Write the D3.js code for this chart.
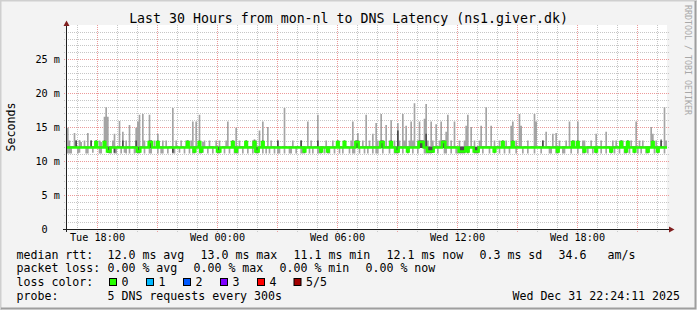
<!DOCTYPE html>
<html>
<head>
<meta charset="utf-8">
<script src="https://cdn.jsdelivr.net/npm/d3@7"></script>
<style>
html, body { margin: 0; padding: 0; background: #f3f3f3; }
svg text { font-family: "DejaVu Sans Mono", monospace; fill: #000; }
</style>
</head>
<body>
<div id="chart"></div>
<script>
// 30 hours of 5 minute steps (360), one row per hour, values in ms
const rttMax = [
  14.9, 13.0, 12.2, 12.2, 14.1, 13.0, 12.1, 13.1, 12.8, 12.1, 13.0, 12.2,
  14.1, 12.1, 13.0, 12.2, 12.2, 13.0, 12.1, 13.0, 12.8, 12.1, 16.5, 17.9,
  16.5, 12.2, 12.2, 13.0, 14.0, 12.1, 12.2, 15.9, 12.2, 14.3, 12.1, 13.0,
  12.2, 15.3, 12.1, 12.2, 12.2, 14.9, 15.8, 16.8, 12.2, 16.9, 13.0, 12.1,
  12.2, 16.8, 13.0, 12.1, 13.0, 12.1, 14.0, 12.2, 12.2, 13.0, 12.1, 13.0,
  12.1, 12.2, 12.2, 17.8, 12.1, 13.0, 12.2, 12.1, 13.0, 12.2, 12.1, 13.0,
  13.0, 12.1, 13.0, 15.8, 12.2, 15.8, 12.2, 16.8, 12.1, 12.8, 13.0, 12.1,
  12.1, 13.0, 12.2, 12.2, 12.1, 13.0, 12.2, 13.0, 12.1, 12.2, 12.2, 13.0,
  15.8, 12.1, 12.2, 13.0, 12.2, 14.9, 12.1, 13.0, 12.2, 12.2, 12.1, 13.0,
  12.1, 12.2, 12.2, 13.0, 13.2, 13.0, 12.1, 14.5, 12.2, 15.8, 12.1, 12.2,
  15.0, 12.1, 13.0, 12.2, 12.2, 12.1, 13.0, 12.2, 12.1, 12.2, 17.8, 12.2,
  12.1, 12.2, 12.2, 13.0, 12.1, 12.2, 12.2, 12.1, 13.0, 12.2, 12.2, 12.1,
  15.8, 12.2, 13.0, 12.1, 12.2, 12.2, 16.8, 12.1, 12.2, 12.2, 12.1, 13.0,
  12.2, 12.2, 12.1, 13.0, 12.2, 12.1, 13.0, 12.2, 12.2, 12.1, 13.0, 12.2,
  12.2, 12.1, 13.0, 15.8, 12.2, 13.0, 14.1, 12.1, 12.2, 13.0, 12.2, 16.8,
  12.2, 13.0, 12.2, 14.0, 12.2, 15.6, 13.0, 12.2, 16.9, 13.0, 12.2, 15.3,
  12.2, 13.0, 16.0, 12.2, 13.0, 12.2, 15.6, 13.0, 12.2, 16.9, 13.0, 15.2,
  12.2, 13.0, 15.8, 13.0, 18.5, 12.2, 13.0, 15.8, 13.0, 13.0, 16.2, 18.4,
  13.0, 12.2, 15.8, 13.0, 12.2, 15.4, 12.2, 13.0, 15.8, 13.0, 13.0, 14.3,
  16.8, 12.2, 13.0, 12.2, 15.8, 12.2, 12.1, 13.0, 12.2, 12.2, 13.0, 15.2,
  16.8, 12.2, 15.0, 12.2, 13.0, 12.1, 12.2, 13.0, 15.2, 12.2, 12.2, 17.9,
  12.2, 12.2, 15.2, 12.1, 13.0, 12.2, 12.2, 13.0, 12.1, 13.0, 12.2, 13.0,
  12.1, 12.2, 15.2, 15.8, 12.2, 13.0, 12.2, 16.9, 15.2, 12.1, 12.2, 12.2,
  13.0, 12.1, 12.2, 12.2, 16.9, 15.8, 12.1, 12.2, 12.2, 13.0, 12.1, 14.3,
  12.2, 12.2, 12.1, 14.0, 12.2, 14.1, 12.2, 13.0, 12.1, 12.2, 12.2, 13.0,
  12.1, 15.8, 12.2, 13.0, 13.0, 12.1, 15.8, 12.2, 12.2, 13.0, 13.0, 12.1,
  12.2, 12.2, 13.0, 12.1, 12.2, 14.0, 12.2, 12.2, 13.0, 12.1, 12.2, 14.3,
  12.2, 12.2, 12.1, 13.0, 12.2, 13.0, 12.2, 12.1, 13.0, 13.0, 12.2, 12.2,
  13.0, 12.1, 13.0, 12.2, 12.2, 15.8, 12.1, 13.0, 12.2, 13.0, 12.1, 12.2,
  12.2, 12.2, 15.0, 14.0, 12.1, 13.0, 12.2, 12.2, 13.2, 12.2, 17.9, 13.0
];

const rttMin = [
  11.1, 11.1, 11.1, 11.9, 11.9, 11.9, 11.1, 11.2, 11.9, 11.9, 11.9, 11.1,
  11.1, 11.9, 11.9, 11.2, 11.9, 11.9, 11.9, 11.1, 11.1, 11.9, 11.9, 11.9,
  11.2, 11.1, 11.1, 11.9, 11.1, 11.1, 11.9, 11.9, 11.1, 11.9, 11.2, 11.1,
  11.9, 11.1, 11.9, 11.9, 11.1, 11.2, 11.1, 11.1, 11.9, 11.9, 11.1, 11.9,
  11.9, 11.1, 11.1, 11.9, 11.9, 11.9, 11.1, 11.9, 11.1, 11.1, 11.9, 11.9,
  11.1, 11.9, 11.9, 11.1, 11.1, 11.9, 11.9, 11.2, 11.9, 11.9, 11.1, 11.9,
  11.9, 11.1, 11.9, 11.1, 11.1, 11.9, 11.9, 11.1, 11.1, 11.2, 11.9, 11.9,
  11.1, 11.9, 11.9, 11.1, 11.9, 11.9, 11.1, 11.1, 11.9, 11.9, 11.1, 11.9,
  11.9, 11.1, 11.9, 11.9, 11.1, 11.1, 11.1, 11.9, 11.9, 11.1, 11.9, 11.9,
  11.1, 11.9, 11.9, 11.1, 11.9, 11.1, 11.1, 11.9, 11.9, 11.1, 11.9, 11.1,
  11.9, 11.1, 11.9, 11.9, 11.1, 11.9, 11.1, 11.1, 11.9, 11.9, 11.1, 11.9,
  11.9, 11.1, 11.1, 11.9, 11.9, 11.1, 11.9, 11.9, 11.1, 11.1, 11.1, 11.9,
  11.9, 11.1, 11.9, 11.1, 11.9, 11.9, 11.1, 11.1, 11.1, 11.9, 11.1, 11.9,
  11.1, 11.1, 11.9, 11.9, 11.1, 11.9, 11.9, 11.1, 11.9, 11.1, 11.9, 11.9,
  11.9, 11.1, 11.9, 11.1, 11.1, 11.9, 11.9, 11.1, 11.9, 11.9, 11.1, 11.9,
  11.1, 11.9, 11.9, 11.1, 11.9, 11.1, 11.1, 11.9, 11.9, 11.1, 11.9, 11.9,
  11.9, 11.1, 11.9, 11.9, 11.1, 11.1, 11.1, 11.9, 11.9, 11.1, 11.9, 11.9,
  11.1, 11.9, 11.9, 11.1, 11.9, 11.9, 11.1, 11.9, 11.9, 11.9, 11.1, 11.1,
  11.1, 11.1, 11.1, 11.2, 11.9, 11.9, 11.1, 11.9, 11.9, 11.9, 11.1, 11.1,
  11.9, 11.9, 11.1, 11.9, 11.9, 11.1, 11.1, 11.1, 11.1, 11.1, 11.1, 11.9,
  11.1, 11.9, 11.9, 11.9, 11.1, 11.1, 11.1, 11.9, 11.9, 11.1, 11.9, 11.9,
  11.9, 11.1, 11.9, 11.9, 11.1, 11.9, 11.9, 11.1, 11.9, 11.9, 11.1, 11.9,
  11.9, 11.1, 11.9, 11.9, 11.9, 11.1, 11.9, 11.9, 11.9, 11.1, 11.9, 11.9,
  11.1, 11.9, 11.9, 11.9, 11.1, 11.9, 11.9, 11.9, 11.1, 11.9, 11.9, 11.9,
  11.9, 11.1, 11.1, 11.9, 11.9, 11.1, 11.1, 11.9, 11.9, 11.1, 11.1, 11.9,
  11.9, 11.9, 11.1, 11.9, 11.9, 11.9, 11.1, 11.9, 11.9, 11.1, 11.1, 11.9,
  11.1, 11.9, 11.9, 11.1, 11.9, 11.1, 11.9, 11.9, 11.1, 11.9, 11.9, 11.1,
  11.9, 11.9, 11.1, 11.9, 11.1, 11.9, 11.9, 11.1, 11.9, 11.9, 11.1, 11.1,
  11.9, 11.1, 11.9, 11.9, 11.1, 11.9, 11.1, 11.9, 11.1, 11.9, 11.9, 11.1,
  11.1, 11.9, 11.9, 11.9, 11.1, 11.9, 11.1, 11.9, 11.9, 11.9, 11.1, 11.9
];

// 2nd and 4th of the 5 sorted pings (dark smoke)
const rttLowQ = [
  11.9, 11.9, 11.9, 11.9, 11.9, 11.9, 11.9, 11.9, 11.9, 11.9, 11.9, 11.9,
  11.9, 11.9, 11.9, 11.9, 11.9, 11.9, 11.9, 11.9, 11.9, 11.9, 11.9, 11.9,
  11.2, 11.2, 11.9, 11.9, 11.2, 11.9, 11.9, 11.9, 11.9, 11.9, 11.9, 11.9,
  11.9, 11.9, 11.9, 11.9, 11.9, 11.9, 11.2, 11.2, 11.9, 11.9, 11.9, 11.9,
  11.9, 11.9, 11.9, 11.9, 11.9, 11.9, 11.9, 11.9, 11.9, 11.9, 11.9, 11.9,
  11.9, 11.9, 11.9, 11.2, 11.9, 11.9, 11.9, 11.9, 11.9, 11.9, 11.9, 11.9,
  11.9, 11.9, 11.9, 11.9, 11.2, 11.9, 11.9, 11.9, 11.2, 11.9, 11.9, 11.9,
  11.9, 11.9, 11.9, 11.9, 11.9, 11.9, 11.2, 11.2, 11.9, 11.9, 11.9, 11.9,
  11.9, 11.9, 11.9, 11.9, 11.9, 11.2, 11.9, 11.9, 11.9, 11.9, 11.9, 11.9,
  11.9, 11.9, 11.9, 11.9, 11.9, 11.2, 11.2, 11.9, 11.9, 11.9, 11.9, 11.9,
  11.9, 11.9, 11.9, 11.9, 11.9, 11.9, 11.9, 11.9, 11.9, 11.9, 11.9, 11.9,
  11.9, 11.9, 11.9, 11.9, 11.9, 11.9, 11.9, 11.9, 11.9, 11.9, 11.2, 11.9,
  11.9, 11.9, 11.9, 11.9, 11.9, 11.9, 11.9, 11.9, 11.2, 11.9, 11.9, 11.9,
  11.2, 11.9, 11.9, 11.9, 11.9, 11.9, 11.9, 11.9, 11.9, 11.9, 11.9, 11.9,
  11.9, 11.9, 11.9, 11.9, 11.9, 11.9, 11.9, 11.9, 11.9, 11.9, 11.9, 11.9,
  11.9, 11.9, 11.9, 11.9, 11.9, 11.9, 11.9, 11.9, 11.9, 11.9, 11.9, 11.9,
  11.9, 11.9, 11.9, 11.9, 11.9, 11.2, 11.2, 11.9, 11.9, 11.9, 11.9, 11.9,
  11.2, 11.9, 11.9, 11.9, 11.9, 11.9, 11.9, 11.9, 11.9, 11.9, 11.9, 11.9,
  11.2, 11.2, 11.2, 11.2, 11.9, 11.9, 11.9, 11.9, 11.9, 11.9, 11.9, 11.9,
  11.9, 11.9, 11.9, 11.9, 11.9, 11.9, 11.9, 11.2, 11.2, 11.2, 11.2, 11.9,
  11.2, 11.9, 11.9, 11.9, 11.2, 11.2, 11.2, 11.9, 11.9, 11.9, 11.9, 11.9,
  11.9, 11.9, 11.9, 11.9, 11.2, 11.9, 11.9, 11.9, 11.9, 11.9, 11.9, 11.9,
  11.9, 11.9, 11.9, 11.9, 11.9, 11.9, 11.9, 11.9, 11.9, 11.9, 11.9, 11.9,
  11.9, 11.9, 11.9, 11.9, 11.9, 11.9, 11.9, 11.9, 11.9, 11.9, 11.9, 11.9,
  11.9, 11.9, 11.9, 11.9, 11.9, 11.9, 11.2, 11.9, 11.9, 11.9, 11.9, 11.9,
  11.9, 11.9, 11.9, 11.9, 11.9, 11.9, 11.9, 11.9, 11.9, 11.9, 11.2, 11.9,
  11.9, 11.9, 11.9, 11.9, 11.9, 11.2, 11.9, 11.9, 11.9, 11.9, 11.9, 11.9,
  11.9, 11.9, 11.2, 11.9, 11.9, 11.9, 11.9, 11.9, 11.9, 11.9, 11.9, 11.2,
  11.9, 11.9, 11.9, 11.9, 11.2, 11.9, 11.9, 11.9, 11.9, 11.9, 11.9, 11.9,
  11.2, 11.9, 11.9, 11.9, 11.9, 11.9, 11.2, 11.9, 11.9, 11.9, 11.9, 11.9
];

const rttHighQ = [
  12.1, 12.1, 12.1, 12.1, 12.1, 13.0, 12.1, 12.1, 12.1, 12.1, 12.1, 12.1,
  12.1, 12.1, 13.0, 12.1, 12.1, 13.0, 12.1, 12.1, 12.1, 12.1, 13.0, 12.1,
  12.1, 12.1, 12.1, 12.1, 12.1, 12.1, 12.1, 12.1, 12.1, 13.0, 12.1, 12.1,
  12.1, 12.1, 12.1, 12.1, 12.1, 13.0, 12.1, 12.1, 12.1, 12.1, 12.1, 12.1,
  12.1, 13.0, 13.0, 12.1, 12.1, 12.1, 13.0, 12.1, 12.1, 12.1, 12.1, 12.1,
  12.1, 12.1, 12.1, 12.1, 12.1, 12.1, 12.1, 12.1, 12.1, 12.1, 12.1, 12.1,
  13.0, 12.1, 12.1, 12.1, 12.1, 12.1, 12.1, 13.0, 12.1, 12.1, 12.1, 12.1,
  12.1, 12.1, 12.1, 12.1, 12.1, 12.1, 12.1, 12.1, 12.1, 12.1, 12.1, 12.1,
  12.1, 12.1, 12.1, 13.0, 12.1, 12.1, 12.1, 12.1, 12.1, 12.1, 12.1, 13.0,
  12.1, 12.1, 12.1, 12.1, 13.0, 12.1, 12.1, 12.1, 12.1, 13.0, 12.1, 12.1,
  12.1, 12.1, 12.1, 12.1, 12.1, 12.1, 13.0, 12.1, 12.1, 12.1, 12.1, 12.1,
  12.1, 12.1, 12.1, 12.1, 12.1, 12.1, 12.1, 12.1, 13.0, 12.1, 12.1, 12.1,
  12.1, 12.1, 12.1, 12.1, 12.1, 12.1, 13.0, 12.1, 12.1, 12.1, 12.1, 12.1,
  12.1, 12.1, 12.1, 12.1, 12.1, 12.1, 13.0, 12.1, 12.1, 12.1, 13.0, 12.1,
  12.1, 12.1, 12.1, 12.1, 12.1, 13.0, 13.0, 12.1, 12.1, 12.1, 12.1, 12.1,
  12.1, 12.1, 12.1, 12.1, 12.1, 12.1, 12.1, 12.1, 13.0, 13.0, 12.1, 12.1,
  12.1, 12.1, 13.0, 12.1, 12.1, 12.1, 14.5, 12.1, 12.1, 12.1, 12.1, 12.1,
  12.1, 12.1, 12.1, 12.1, 12.1, 12.1, 12.1, 13.0, 13.0, 13.0, 12.1, 14.0,
  12.1, 12.1, 12.1, 12.1, 12.1, 12.1, 12.1, 12.1, 12.1, 13.0, 13.0, 12.1,
  12.1, 12.1, 12.1, 12.1, 12.1, 12.1, 12.1, 12.1, 12.1, 12.1, 12.1, 12.1,
  12.1, 12.1, 12.1, 12.1, 12.1, 12.1, 12.1, 12.1, 12.1, 12.1, 12.1, 12.1,
  12.1, 12.1, 12.1, 12.1, 12.1, 12.1, 12.1, 12.1, 12.1, 13.0, 12.1, 12.1,
  12.1, 12.1, 12.1, 13.0, 12.1, 12.1, 12.1, 12.1, 12.1, 12.1, 12.1, 12.1,
  12.1, 12.1, 12.1, 12.1, 12.1, 12.1, 12.1, 12.1, 12.1, 13.0, 12.1, 12.1,
  12.1, 12.1, 12.1, 12.1, 12.1, 12.1, 12.1, 12.1, 12.1, 12.1, 12.1, 12.1,
  12.1, 12.1, 12.1, 13.0, 12.1, 12.1, 13.0, 12.1, 12.1, 12.1, 12.1, 12.1,
  12.1, 12.1, 12.1, 12.1, 12.1, 12.1, 12.1, 12.1, 12.1, 12.1, 12.1, 12.1,
  12.1, 12.1, 12.1, 12.1, 12.1, 12.1, 12.1, 12.1, 13.0, 12.1, 12.1, 12.1,
  13.0, 12.1, 12.1, 12.1, 12.1, 12.1, 12.1, 12.1, 12.1, 12.1, 12.1, 12.1,
  12.1, 12.1, 12.1, 13.0, 12.1, 12.1, 12.1, 12.1, 13.0, 12.1, 12.1, 12.1
];

const rttMedian = [
  12.0, 12.0, 12.0, 12.0, 12.0, 12.0, 12.0, 12.0, 12.0, 12.0, 12.0, 12.0,
  12.0, 12.0, 12.0, 12.0, 12.0, 12.8, 12.0, 12.0, 12.0, 12.0, 12.8, 12.0,
  11.4, 11.4, 12.0, 12.0, 12.0, 12.0, 12.0, 12.0, 12.0, 12.0, 12.0, 12.0,
  12.0, 12.0, 12.0, 12.0, 12.0, 12.0, 11.4, 11.4, 12.0, 12.0, 12.0, 12.0,
  12.0, 12.8, 12.8, 12.0, 12.0, 12.0, 12.8, 12.0, 12.0, 12.0, 12.0, 12.0,
  12.0, 12.0, 12.0, 12.0, 12.0, 12.0, 12.0, 12.0, 12.0, 12.0, 12.0, 12.0,
  12.8, 12.0, 12.0, 12.0, 11.4, 12.0, 12.0, 12.8, 11.4, 12.0, 12.0, 12.0,
  12.0, 12.0, 12.0, 12.0, 12.0, 12.0, 11.4, 11.4, 12.0, 12.0, 12.0, 12.0,
  12.0, 12.0, 12.0, 12.8, 12.0, 11.4, 12.0, 12.0, 12.0, 12.0, 12.0, 12.8,
  12.0, 12.0, 12.0, 12.0, 12.8, 11.4, 11.4, 12.0, 12.0, 12.8, 12.0, 12.0,
  12.0, 12.0, 12.0, 12.0, 12.0, 12.0, 12.0, 12.0, 12.0, 12.0, 12.0, 12.0,
  12.0, 12.0, 12.0, 12.0, 12.0, 12.0, 12.0, 12.0, 12.0, 12.0, 11.4, 12.0,
  12.0, 12.0, 12.0, 12.0, 12.0, 12.0, 12.0, 12.0, 11.4, 12.0, 12.0, 12.0,
  11.4, 12.0, 12.0, 12.0, 12.0, 12.0, 12.8, 12.0, 12.0, 12.0, 12.8, 12.0,
  12.0, 12.0, 12.0, 12.0, 12.0, 12.8, 12.8, 12.0, 12.0, 12.0, 12.0, 12.0,
  12.0, 12.0, 12.0, 12.0, 12.0, 12.0, 12.0, 12.0, 12.8, 12.8, 12.0, 12.0,
  12.0, 12.0, 12.8, 12.0, 12.0, 11.4, 11.4, 12.0, 12.0, 12.0, 12.0, 12.0,
  11.4, 12.0, 12.0, 12.0, 12.0, 12.0, 12.0, 12.8, 12.8, 12.8, 12.0, 12.0,
  11.4, 11.4, 11.4, 11.4, 12.0, 12.0, 12.0, 12.0, 12.0, 12.8, 12.8, 12.0,
  12.0, 12.0, 12.0, 12.0, 12.0, 12.0, 12.0, 11.4, 11.4, 11.4, 11.4, 12.0,
  11.4, 12.0, 12.0, 12.0, 11.4, 11.4, 11.4, 12.0, 12.0, 12.0, 12.0, 12.0,
  12.0, 12.0, 12.0, 12.0, 11.4, 12.0, 12.0, 12.0, 12.0, 12.8, 12.0, 12.0,
  12.0, 12.0, 12.0, 12.8, 12.0, 12.0, 12.0, 12.0, 12.0, 12.0, 12.0, 12.0,
  12.0, 12.0, 12.0, 12.0, 12.0, 12.0, 12.0, 12.0, 12.0, 12.0, 12.0, 12.0,
  12.0, 12.0, 12.0, 12.0, 12.0, 12.0, 11.4, 12.0, 12.0, 12.0, 12.0, 12.0,
  12.0, 12.0, 12.0, 12.8, 12.0, 12.0, 12.8, 12.0, 12.0, 12.0, 11.4, 12.0,
  12.0, 12.0, 12.0, 12.0, 12.0, 11.4, 12.0, 12.0, 12.0, 12.0, 12.0, 12.0,
  12.0, 12.0, 11.4, 12.0, 12.0, 12.0, 12.0, 12.0, 12.8, 12.0, 12.0, 11.4,
  12.8, 12.0, 12.0, 12.0, 11.4, 12.0, 12.0, 12.0, 12.0, 12.0, 12.0, 12.0,
  11.4, 12.0, 12.0, 12.8, 12.0, 12.0, 11.4, 12.0, 12.0, 12.0, 12.0, 12.0
];

const yTicks = [0, 5, 10, 15, 20, 25];
const title = "Last 30 Hours from mon-nl to DNS Latency (ns1.giver.dk)";
const rttStats = [["12.0", "avg"], ["13.0", "max"], ["11.1", "min"], ["12.1", "now"], ["0.3", "sd"]];
const amPerSec = "34.6";
const lossStats = [["0.00", "avg"], ["0.00", "max"], ["0.00", "min"], ["0.00", "now"]];
const lossLabels = ["0", "1", "2", "3", "4", "5/5"];
const lossColors = ["#26ff00", "#00b8ff", "#0059ff", "#7e00ff", "#ff0000", "#a10000"];
const probeText = "5 DNS requests every 300s";
const stamp = "Wed Dec 31 22:24:11 2025";

const startTime = new Date(2025, 11, 30, 16, 30);
const stepMs = 300 * 1000;
const nSteps = rttMedian.length;
const endTime = new Date(+startTime + nSteps * stepMs);

const W = 697, H = 310;
const plot = { left: 67, right: 667, top: 25, bottom: 229 };

const svg = d3.select("#chart").append("svg")
    .attr("width", W)
    .attr("height", H);

// background + 3d frame
svg.append("rect").attr("width", W).attr("height", H).attr("fill", "#f3f3f3");
svg.append("path").attr("d", `M0.5,${H} V0.5 H${W}`).attr("fill", "none").attr("stroke", "#cfcfcf").attr("stroke-width", 2);
svg.append("path").attr("d", `M1,${H - 1.5} H${W - 1.5} V1`).attr("fill", "none").attr("stroke", "#9e9e9e").attr("stroke-width", 2);

svg.append("rect")
    .attr("x", plot.left).attr("y", plot.top)
    .attr("width", plot.right - plot.left).attr("height", plot.bottom - plot.top)
    .attr("fill", "#fff");

const x = d3.scaleTime().domain([startTime, endTime]).range([plot.left, plot.right]);
const y = d3.scaleLinear().domain([0, 30]).range([plot.bottom, plot.top]);

// grid
const grid = svg.append("g");
const hours = x.ticks(d3.timeHour.every(1)).filter(d => x(d) > plot.left);
grid.selectAll(".vminor")
    .data(hours.filter(d => d.getHours() % 3 !== 0))
    .enter().append("line")
    .attr("x1", d => Math.round(x(d)) + 0.5).attr("x2", d => Math.round(x(d)) + 0.5)
    .attr("y1", plot.top).attr("y2", plot.bottom + 3)
    .attr("stroke", "#c6c6c6").attr("stroke-dasharray", "1,1");
grid.selectAll(".vmajor")
    .data(hours.filter(d => d.getHours() % 3 === 0))
    .enter().append("line")
    .attr("x1", d => Math.round(x(d)) + 0.5).attr("x2", d => Math.round(x(d)) + 0.5)
    .attr("y1", plot.top).attr("y2", plot.bottom + 3)
    .attr("stroke", "#ec9a9a").attr("stroke-dasharray", "1,1");

const msLines = d3.range(1, 30);
grid.selectAll(".hline")
    .data(msLines)
    .enter().append("line")
    .attr("x1", plot.left - 3).attr("x2", plot.right + 3)
    .attr("y1", d => Math.round(y(d)) + 0.5).attr("y2", d => Math.round(y(d)) + 0.5)
    .attr("stroke", d => d % 5 === 0 ? "#ec9a9a" : "#c6c6c6")
    .attr("stroke-dasharray", "1,1");

// smoke
const rows = d3.range(nSteps + 1).map(k => ({ t: new Date(+startTime + k * stepMs), i: Math.min(k, nSteps - 1) }));

svg.append("path")
    .datum(rows)
    .attr("fill", "#a4a4a4")
    .attr("d", d3.area().curve(d3.curveStepAfter)
        .x(d => x(d.t)).y0(d => y(rttMin[d.i])).y1(d => y(rttMax[d.i])));

svg.append("path")
    .datum(rows)
    .attr("fill", "#4c4c4c")
    .attr("d", d3.area().curve(d3.curveStepAfter)
        .x(d => x(d.t)).y0(d => y(rttLowQ[d.i])).y1(d => y(rttHighQ[d.i])));

// median, coloured by loss (no loss in this period)
svg.append("path")
    .datum(rows)
    .attr("fill", "none")
    .attr("stroke", lossColors[0])
    .attr("stroke-width", 2.5)
    .attr("d", d3.line().curve(d3.curveStepAfter)
        .x(d => x(d.t)).y(d => y(rttMedian[d.i])));

// axes lines and arrows
svg.append("line")
    .attr("x1", plot.left - 0.5).attr("x2", plot.left - 0.5)
    .attr("y1", plot.bottom + 3).attr("y2", plot.top - 2)
    .attr("stroke", "#1f1f1f");
svg.append("line")
    .attr("x1", plot.left - 4).attr("x2", plot.right + 3)
    .attr("y1", plot.bottom + 0.5).attr("y2", plot.bottom + 0.5)
    .attr("stroke", "#1f1f1f");
svg.append("path")
    .attr("d", `M${plot.left - 3.5},${plot.top + 1} L${plot.left + 2.5},${plot.top + 1} L${plot.left - 0.5},${plot.top - 4.5} Z`)
    .attr("fill", "#801f1f");
svg.append("path")
    .attr("d", `M${plot.right + 2},${plot.bottom - 2.5} L${plot.right + 2},${plot.bottom + 3.5} L${plot.right + 7.5},${plot.bottom + 0.5} Z`)
    .attr("fill", "#801f1f");

// axis labels
const yAxis = svg.append("g")
    .attr("transform", "translate(60,0)")
    .call(d3.axisLeft(y).tickValues(yTicks).tickSize(0).tickPadding(0)
        .tickFormat(d => d === 0 ? "0\u00a0\u00a0" : d + " m"));
yAxis.select(".domain").remove();
yAxis.selectAll("text").style("font-family", "DejaVu Sans Mono").style("font-size", "10.2px").attr("fill", "#000");

const xAxis = svg.append("g")
    .attr("transform", `translate(0,${plot.bottom})`)
    .call(d3.axisBottom(x).ticks(d3.timeHour.every(6)).tickSize(0).tickPadding(5)
        .tickFormat(d3.timeFormat("%a %H:%M")));
xAxis.select(".domain").remove();
xAxis.selectAll("text").style("font-family", "DejaVu Sans Mono").style("font-size", "10.2px").attr("fill", "#000");

svg.append("text")
    .attr("transform", `translate(15,${(plot.top + plot.bottom) / 2}) rotate(-90)`)
    .attr("text-anchor", "middle")
    .style("font-size", "11.6px")
    .text("Seconds");

svg.append("text")
    .attr("x", W / 2).attr("y", 23)
    .attr("text-anchor", "middle")
    .style("font-size", "13.25px")
    .text(title);

svg.append("text")
    .attr("transform", "translate(685,5) rotate(90)")
    .style("font-size", "8.3px")
    .style("fill", "#a8a8a8")
    .text("RRDTOOL / TOBI OETIKER");

// legend
const legend = svg.append("g").style("font-size", "11.6px");
const rowY = [258.5, 272, 286, 299.5];
const labelX = 16.5;
["median rtt:", "packet loss:", "loss color:", "probe:"].forEach((s, r) => {
    legend.append("text").attr("x", labelX).attr("y", rowY[r]).text(s);
});

const rttX = [107.5, 200.5, 293.5, 386.5, 479.5];
rttStats.forEach(([v, k], i) => {
    legend.append("text").attr("x", rttX[i]).attr("y", rowY[0]).text(`${v} ms ${k}`);
});
legend.append("text").attr("x", 558.5).attr("y", rowY[0]).text(amPerSec);
legend.append("text").attr("x", 607.5).attr("y", rowY[0]).text("am/s");

const lossX = [107.5, 193.5, 279.5, 365.5];
lossStats.forEach(([v, k], i) => {
    legend.append("text").attr("x", lossX[i]).attr("y", rowY[1]).text(`${v} % ${k}`);
});

const swatchX = [109, 146, 183, 220, 257, 293.5];
lossLabels.forEach((s, i) => {
    legend.append("rect")
        .attr("x", swatchX[i] + 0.5).attr("y", rowY[2] - 7.5)
        .attr("width", 7).attr("height", 7)
        .attr("fill", lossColors[i]).attr("stroke", "#000");
    legend.append("text").attr("x", swatchX[i] + 12.5).attr("y", rowY[2]).text(s);
});

legend.append("text").attr("x", 107.5).attr("y", rowY[3]).text(probeText);
legend.append("text").attr("x", 680).attr("y", rowY[3]).attr("text-anchor", "end").text(stamp);
</script>
</body>
</html>
